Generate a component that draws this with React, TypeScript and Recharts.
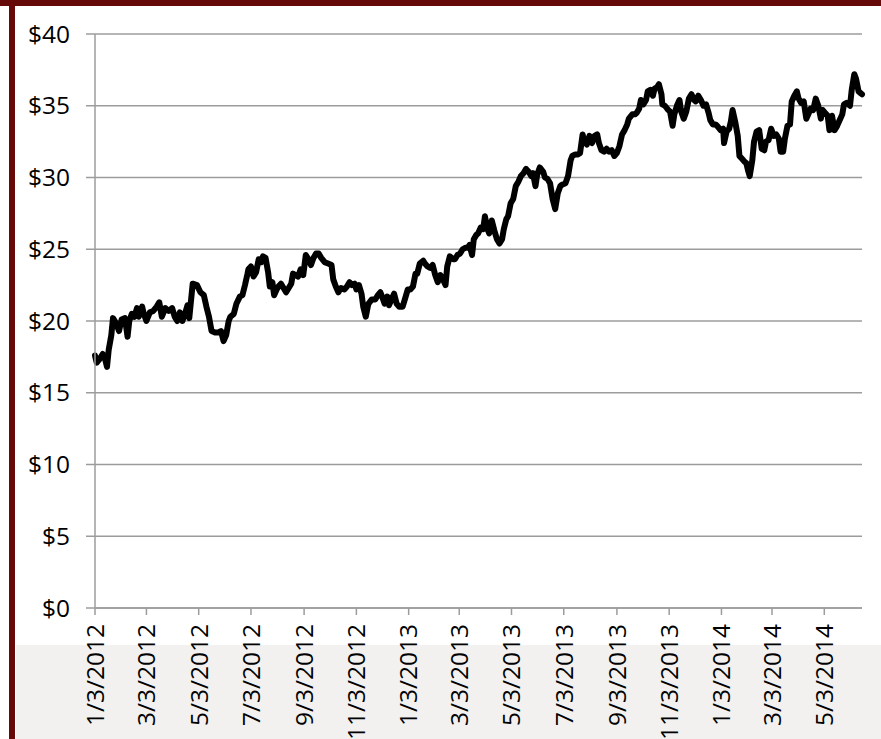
import { CartesianGrid, Line, LineChart, XAxis, YAxis } from "recharts";

// days since 1/3/2012 and closing price
const days = [
  0, 2, 6, 9, 12, 14, 16, 19, 21, 25, 28, 31, 35, 38, 40, 43, 46, 49, 51, 55,
  57, 60, 64, 68, 72, 75, 78, 82, 86, 90, 93, 96, 99, 102, 105, 108, 110, 114, 119, 123,
  127, 130, 133, 136, 140, 144, 147, 150, 153, 156, 158, 162, 165, 169, 172, 175, 178, 179, 182, 185,
  188, 191, 194, 196, 199, 202, 204, 207, 209, 212, 214, 217, 220, 223, 226, 229, 231, 234, 237, 240,
  243, 246, 249, 252, 255, 258, 261, 264, 268, 272, 276, 278, 281, 284, 287, 291, 294, 297, 300, 303,
  305, 308, 311, 313, 316, 319, 323, 327, 330, 333, 335, 338, 341, 343, 346, 349, 352, 355, 359, 362,
  365, 368, 371, 374, 376, 379, 383, 385, 388, 391, 394, 397, 400, 403, 406, 409, 411, 414, 418, 420,
  423, 426, 429, 432, 435, 437, 440, 442, 445, 447, 450, 453, 455, 458, 460, 463, 466, 469, 472, 475,
  477, 480, 482, 485, 488, 491, 494, 497, 500, 503, 506, 509, 511, 514, 516, 519, 523, 525, 528, 531,
  534, 537, 540, 543, 545, 549, 552, 555, 557, 560, 563, 566, 569, 571, 574, 577, 580, 583, 586, 588,
  591, 594, 597, 600, 603, 606, 609, 612, 615, 618, 621, 623, 627, 630, 632, 635, 637, 640, 643, 645,
  648, 651, 653, 656, 658, 661, 662, 665, 669, 671, 674, 676, 679, 682, 684, 687, 690, 693, 696, 699,
  701, 704, 707, 710, 713, 716, 718, 721, 724, 726, 730, 733, 734, 737, 740, 742, 744, 747, 750, 752,
  755, 758, 760, 762, 764, 767, 769, 772, 775, 778, 781, 783, 786, 789, 792, 795, 798, 800, 803, 805,
  808, 811, 813, 816, 819, 821, 824, 827, 830, 833, 835, 838, 841, 844, 847, 849, 852, 855, 857, 860,
  863, 866, 869, 872, 874, 877, 879, 881, 883, 886, 888, 891, 893, 895,
];

const prices = [
  17.6, 17.1, 17.4, 17.7, 17.3, 16.8, 18.0, 19.0, 20.2, 19.8, 19.3, 20.1, 20.2, 18.9, 20.0, 20.5, 20.3, 20.9, 20.3, 21.0,
  20.5, 20.0, 20.6, 20.7, 21.0, 21.3, 20.3, 20.9, 20.7, 20.9, 20.3, 20.0, 20.6, 20.0, 20.5, 21.1, 20.2, 22.6, 22.5, 22.0,
  21.8, 21.0, 20.3, 19.3, 19.2, 19.2, 19.3, 18.6, 19.0, 20.0, 20.3, 20.5, 21.2, 21.7, 21.8, 22.5, 23.3, 23.6, 23.8, 23.1,
  23.4, 24.3, 24.1, 24.5, 24.4, 23.4, 22.4, 22.7, 21.8, 22.2, 22.4, 22.6, 22.3, 22.0, 22.3, 22.6, 23.3, 23.2, 23.1, 23.6,
  23.2, 24.6, 24.3, 23.9, 24.4, 24.7, 24.7, 24.4, 24.1, 24.0, 23.9, 22.9, 22.4, 22.0, 22.3, 22.2, 22.4, 22.7, 22.5, 22.6,
  22.2, 22.5, 21.9, 21.0, 20.3, 21.2, 21.5, 21.5, 21.8, 22.0, 21.7, 21.2, 21.7, 21.1, 21.5, 21.9, 21.2, 21.0, 21.0, 21.6,
  22.2, 22.2, 22.4, 23.3, 23.3, 24.0, 24.2, 24.0, 23.8, 23.7, 23.9, 23.2, 22.7, 23.2, 22.9, 22.5, 23.8, 24.5, 24.3, 24.3,
  24.6, 24.7, 25.0, 25.1, 25.1, 25.3, 24.6, 25.7, 26.0, 26.1, 26.5, 26.4, 27.3, 26.4, 26.1, 27.0, 26.3, 25.7, 25.4, 25.7,
  26.4, 27.1, 27.3, 28.2, 28.5, 29.4, 29.7, 30.1, 30.3, 30.6, 30.4, 30.1, 30.3, 29.4, 30.2, 30.7, 30.4, 30.0, 29.9, 29.6,
  28.5, 27.8, 28.9, 29.4, 29.5, 29.6, 30.1, 31.2, 31.5, 31.6, 31.6, 31.7, 33.0, 32.5, 32.3, 32.9, 32.4, 32.9, 33.0, 32.4,
  31.9, 31.8, 32.0, 31.8, 31.9, 31.5, 31.7, 32.2, 33.0, 33.3, 33.7, 34.1, 34.4, 34.4, 34.5, 34.8, 35.4, 35.1, 35.4, 36.0,
  36.1, 35.7, 36.2, 36.3, 36.5, 35.8, 35.1, 35.0, 34.7, 34.6, 33.6, 34.4, 35.0, 35.4, 34.6, 34.1, 34.6, 35.5, 35.8, 35.4,
  35.3, 35.7, 35.4, 35.0, 35.1, 34.5, 34.0, 33.7, 33.7, 33.6, 33.3, 33.4, 32.4, 33.2, 33.4, 33.9, 34.7, 33.9, 32.9, 31.5,
  31.3, 31.1, 31.0, 30.5, 30.1, 31.2, 32.5, 33.2, 33.3, 32.0, 31.9, 32.5, 32.6, 33.4, 32.9, 33.0, 32.7, 31.8, 31.8, 32.7,
  33.6, 33.7, 35.3, 35.7, 36.0, 35.5, 35.2, 35.3, 34.1, 34.5, 34.8, 34.7, 35.5, 35.0, 34.1, 34.7, 34.5, 34.3, 33.3, 34.3,
  33.3, 33.6, 34.0, 34.4, 35.1, 35.2, 35.1, 35.0, 36.1, 37.2, 36.9, 36.0, 35.9, 35.8,
];

const tickLabels = [
  "1/3/2012", "3/3/2012", "5/3/2012", "7/3/2012", "9/3/2012", "11/3/2012", "1/3/2013",
  "3/3/2013", "5/3/2013", "7/3/2013", "9/3/2013", "11/3/2013", "1/3/2014", "3/3/2014", "5/3/2014",
];
const yTicks = [0, 5, 10, 15, 20, 25, 30, 35, 40];
const LAST_DAY = 895;

const dayOf = (label: string) => {
  const [m, d, y] = label.split("/").map(Number);
  return Math.round((Date.UTC(y, m - 1, d) - Date.UTC(2012, 0, 3)) / 86400000);
};
const xTicks = tickLabels.map(dayOf);

const rows = days.map((d, i) => ({ day: d, price: prices[i] }));

const FONT = "'Open Sans', sans-serif";
const GRID = "#9c9c9c";

function DateTick(props: any) {
  const { x, y, payload } = props;
  const i = xTicks.indexOf(payload.value);
  return (
    <g transform={`translate(${x},${y})`}>
      <text transform="rotate(-90)" textAnchor="end" dy="0.36em" fontSize={24.5} fill="#000" fontFamily={FONT}>
        {tickLabels[i]}
      </text>
    </g>
  );
}

export default function App() {
  return (
    <div style={{ position: "absolute", left: 0, top: 0, width: 881, height: 739, overflow: "hidden", background: "#fff" }}>
      <div style={{ position: "absolute", left: 16, top: 645, width: 865, height: 94, background: "#f2f1f0" }} />
      <div style={{ position: "absolute", left: 0, top: 0, width: 881, height: 6, background: "#650909" }} />
      <div style={{ position: "absolute", left: 9, top: 0, width: 6, height: 739, background: "#650909" }} />
      <div style={{ position: "absolute", left: 0, top: 0 }}>
        <LineChart width={881} height={739} data={rows} margin={{ top: 34, right: 19, bottom: 0, left: 0 }} style={{ fontFamily: FONT }}>
          <CartesianGrid vertical={false} stroke={GRID} strokeWidth={1.5} />
          <XAxis
            dataKey="day"
            type="number"
            domain={[0, LAST_DAY]}
            ticks={xTicks}
            interval={0}
            height={131}
            stroke={GRID}
            strokeWidth={1.5}
            tickSize={7}
            tickMargin={9}
            tick={<DateTick />}
          />
          <YAxis
            type="number"
            domain={[0, 40]}
            ticks={yTicks}
            width={95}
            stroke={GRID}
            strokeWidth={1.5}
            tickSize={9}
            tickMargin={16}
            tickFormatter={(v: number) => `$${v}`}
            tick={{ fontSize: 24.5, fill: "#000", fontFamily: FONT }}
          />
          <Line
            type="linear"
            dataKey="price"
            stroke="#000"
            strokeWidth={6}
            strokeLinejoin="round"
            strokeLinecap="round"
            dot={false}
            isAnimationActive={false}
          />
        </LineChart>
      </div>
    </div>
  );
}
